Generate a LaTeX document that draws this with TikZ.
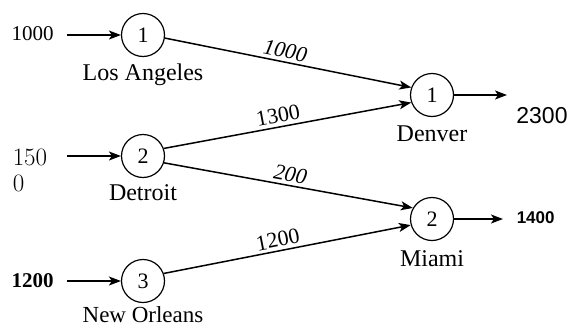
\documentclass[tikz,border=0pt]{standalone}
\usepackage{fontspec}
\usepackage{tikz}
\usetikzlibrary{arrows.meta,automata,positioning}
\newfontfamily\tnr{Liberation Serif}
\newfontfamily\arl{Liberation Sans}

\begin{document}
\begin{tikzpicture}[x=1pt,y=-1pt,->,>={Stealth[length=12pt,width=9pt,inset=3pt]},line width=1.5pt,
    every state/.style={draw,line width=1.2pt,minimum size=43pt,inner sep=0pt,
      font=\tnr\fontsize{22}{24}\selectfont},
    city/.style={inner sep=0pt,font=\tnr\fontsize{24}{26}\selectfont},
    supply/.style={inner sep=0pt,anchor=west,font=\tnr\fontsize{21}{23}\selectfont},
    flow/.style={sloped,above,inner sep=3pt,font=\tnr\fontsize{22}{24}\selectfont}]

  \useasboundingbox (0,0) rectangle (573,327);

  % sources
  \node[state] (s1) at (143,35) {1};
  \node[state] (s2) at (143,156) {2};
  \node[state] (s3) at (143,281) {3};
  % destinations
  \node[state] (t1) at (432,95) {1};
  \node[state] (t2) at (432,219) {2};

  \node[city] (la) [below=6pt of s1] {Los Angeles};
  \node[city] (det) [below=6pt of s2] {Detroit};
  \node[city,font=\tnr\fontsize{23}{25}\selectfont] (no) [below=3pt of s3] {New Orleans};
  \node[city] (den) [below=8pt of t1] {Denver};
  \node[city] (mia) [below=9pt of t2] {Miami};

  % supplies
  \node[supply] (a1) at (11,34) {1000};
  \node[supply,anchor=north west,align=left,font=\fontsize{25}{26}\selectfont] (a2) at (12,148) {150\\0};
  \node[supply,font=\tnr\bfseries\fontsize{21}{23}\selectfont] (a3) at (11,281) {1200};
  \coordinate (i1) at (67,35);
  \coordinate (i2) at (67,156);
  \coordinate (i3) at (67,281);
  \draw (i1) -- (s1);
  \draw (i2) -- (s2);
  \draw (i3) -- (s3);

  % demands
  \coordinate (o1) at (507,95);
  \coordinate (o2) at (503,219);
  \draw (t1) -- (o1);
  \draw (t2) -- (o2);
  \node[inner sep=0pt,font=\arl\fontsize{23}{25}\selectfont] (d1) at (542,116) {2300};
  \node[inner sep=0pt,anchor=west,font=\arl\bfseries\fontsize{17}{19}\selectfont] (d2) at (516,218) {1400};

  \path (s1.-8) edge node[flow,pos=0.48] {\itshape 1000} (t1.160);
  \path (s2.20) edge node[flow,pos=0.47] {1300} (t1.200);
  \path (s2.-18) edge node[flow,pos=0.5] {\itshape 200} (t2.150);
  \path (s3.20) edge node[flow,pos=0.47] {1200} (t2.196);

\end{tikzpicture}
\end{document}
